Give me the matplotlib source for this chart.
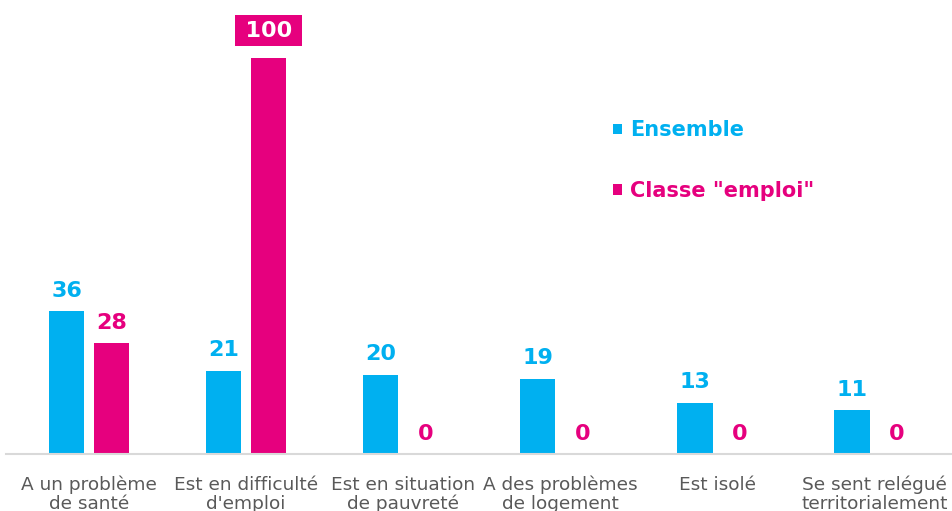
import matplotlib
matplotlib.use("Agg")
import matplotlib.pyplot as plt
import numpy as np

categories = ["A un problème\nde santé", "Est en difficulté\nd'emploi",
              "Est en situation\nde pauvreté", "A des problèmes\nde logement",
              "Est isolé", "Se sent relégué\nterritorialement"]
ensemble = [36, 21, 20, 19, 13, 11]
classe_emploi = [28, 100, 0, 0, 0, 0]
series_names = ["Ensemble", 'Classe "emploi"']

CYAN = "#00B0F0"
MAGENTA = "#E6007E"
GREY = "#595959"

fig = plt.figure(figsize=(9.53, 5.11), dpi=100)
ax = fig.add_axes([0.006, 1 - 454 / 511, 0.994, (454 - 58) / 511])

x = np.arange(len(categories))
w = 0.225
off = 0.143
b1 = ax.bar(x - off, ensemble, w, color=CYAN, label=series_names[0])
b2 = ax.bar(x + off, classe_emploi, w, color=MAGENTA, label=series_names[1])

ax.set_xlim(-0.53, len(categories) - 0.5)
ax.set_ylim(0, 100)

# étiquettes de valeurs
for xi, v in zip(x - off, ensemble):
    ax.annotate(f"{v}", (xi, v), xytext=(0, 7.5), textcoords="offset points",
                ha="center", va="bottom", color=CYAN, fontsize=16,
                fontweight="bold", annotation_clip=False)
for xi, v in zip(x + off, classe_emploi):
    if v == max(classe_emploi):
        ax.annotate(f"\u2009{v}\u2009", (xi, v), xytext=(0, 12.6),
                    textcoords="offset points",
                    ha="center", va="bottom", color="white", fontsize=16,
                    fontweight="bold", annotation_clip=False,
                    bbox=dict(boxstyle="square,pad=0.25", fc=MAGENTA, ec="none"))
    else:
        ax.annotate(f"{v}", (xi, v), xytext=(0, 7.5), textcoords="offset points",
                    ha="center", va="bottom", color=MAGENTA, fontsize=16,
                    fontweight="bold", annotation_clip=False)

ax.set_xticks(x)
ax.set_xticklabels(categories, color=GREY, fontsize=13.3, linespacing=1.1)
ax.tick_params(axis="x", length=0, pad=15.5)
ax.set_yticks([])
for s in ["top", "right", "left"]:
    ax.spines[s].set_visible(False)
ax.spines["bottom"].set_color("#D9D9D9")
ax.spines["bottom"].set_linewidth(1.5)

ax.legend(loc="upper left", bbox_to_anchor=(603 / 953, 1 - 110 / 511),
          bbox_transform=fig.transFigure, frameon=False,
          handlelength=0.4, handleheight=0.4, handletextpad=0.4,
          labelspacing=1.95, borderpad=0,
          labelcolor=[CYAN, MAGENTA], prop={"weight": "bold", "size": 15})

fig.savefig("out.png", dpi=100)
